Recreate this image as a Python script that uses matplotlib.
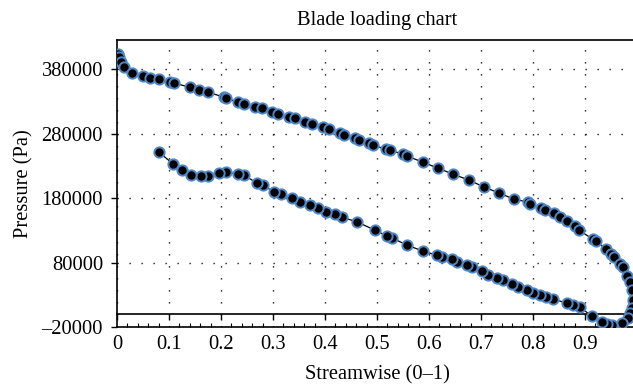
import matplotlib
matplotlib.use("Agg")
import matplotlib.pyplot as plt
from matplotlib.ticker import MultipleLocator

plt.rcParams['font.family'] = ['Liberation Serif', 'DejaVu Serif']
plt.rcParams['lines.scale_dashes'] = False

# Suction side (upper) then trailing edge, then pressure side (lower) back to 0.08
streamwise = [0.002, 0.004, 0.008, 0.013, 0.029, 0.050, 0.063, 0.081, 0.102, 0.110,
              0.140, 0.158, 0.175, 0.206, 0.210, 0.233, 0.244, 0.265, 0.279, 0.298,
              0.310, 0.331, 0.342, 0.362, 0.375, 0.396, 0.408, 0.429, 0.437, 0.458,
              0.465, 0.485, 0.492, 0.517, 0.525, 0.550, 0.558, 0.588, 0.617, 0.646,
              0.677, 0.706, 0.735, 0.763, 0.790, 0.794, 0.815, 0.823, 0.840, 0.852,
              0.865, 0.881, 0.888, 0.915, 0.921, 0.940, 0.950, 0.956, 0.967, 0.973,
              0.981, 0.987, 0.990, 0.992, 0.990, 0.987, 0.983,
              0.971, 0.952, 0.942, 0.933, 0.913, 0.890, 0.877, 0.865, 0.838, 0.825,
              0.813, 0.800, 0.788, 0.771, 0.760, 0.742, 0.731, 0.713, 0.702, 0.683,
              0.673, 0.654, 0.644, 0.625, 0.615, 0.588, 0.558, 0.529, 0.519, 0.496,
              0.462, 0.433, 0.419, 0.402, 0.387, 0.371, 0.352, 0.337, 0.315, 0.302,
              0.281, 0.269, 0.244, 0.233, 0.210, 0.196, 0.175, 0.162, 0.142, 0.125,
              0.108, 0.081]
pressure = [403000, 398600, 390900, 383100, 373800, 369200, 366000, 364500, 359900, 358300,
            352100, 347500, 344300, 336600, 335000, 328800, 325700, 321100, 319500, 313300,
            310200, 305600, 304000, 297800, 294700, 290100, 287000, 280800, 277700, 273000,
            269900, 265300, 262200, 256000, 254400, 248200, 245100, 235800, 226500, 217200,
            207900, 197100, 187800, 178500, 173800, 170700, 164500, 161400, 156800, 150500,
            144300, 136600, 130400, 116400, 113300, 100900, 93200, 88500, 77700, 73000,
            59100, 49800, 37400, 21900, 9500, 1700, -6100,
            -13800, -16900, -15400, -12300, -3000, 11000, 14100, 17200, 23400, 26500,
            29600, 32700, 37400, 42000, 46700, 52900, 56000, 60600, 66800, 73000,
            76100, 80800, 85400, 88500, 91600, 97800, 107100, 118000, 121100, 130400,
            142800, 150500, 155200, 158300, 164500, 169200, 173800, 180000, 186200, 189300,
            200200, 203300, 215700, 217200, 220300, 218800, 214100, 214100, 215700, 223400,
            232700, 251300]

x_ticks = [0, 0.1, 0.2, 0.3, 0.4, 0.5, 0.6, 0.7, 0.8, 0.9]
x_tick_labels = ['0', '0.1', '0.2', '0.3', '0.4', '0.5', '0.6', '0.7', '0.8', '0.9']
y_ticks = [-20000, 80000, 180000, 280000, 380000]
y_tick_labels = ['\u201320000', '80000', '180000', '280000', '380000']

fig = plt.figure(figsize=(6.33, 3.90), dpi=100)
ax = fig.add_axes([0.1848, 0.1615, 0.8215, 0.7355])

ax.plot(streamwise, pressure, color='black', lw=0.9, marker='o', ms=7.4,
        mfc='black', mec='#4f86c6', mew=1.4, zorder=3)

ax.set_xlim(0, 1.0)
ax.set_ylim(-20000, 425000)

ax.set_xticks(x_ticks)
ax.set_xticklabels(x_tick_labels)
ax.set_yticks(y_ticks)
ax.set_yticklabels(y_tick_labels)
ax.xaxis.set_minor_locator(MultipleLocator(0.02))

ax.tick_params(axis='x', which='major', length=0, pad=6, labelsize=14.8)
ax.tick_params(axis='x', which='minor', direction='in', length=3, width=0.8)
ax.tick_params(axis='y', which='major', direction='out', length=4, width=1, pad=6, labelsize=14.8)

for s in ['left', 'bottom', 'top']:
    ax.spines[s].set_linewidth(1.2)
ax.spines['right'].set_visible(False)

ax.grid(True, which='major', color='black', lw=1.0, linestyle=(0, (0.9, 7.74)))
ax.grid(False, which='minor')
ax.set_axisbelow(True)

# zero line with major ticks
zero_pos = (0 - (-20000)) / (425000 + 20000)
sec = ax.secondary_xaxis(zero_pos)
sec.set_xticks(x_ticks)
sec.tick_params(axis='x', which='major', direction='out', length=4.5, width=1, labelbottom=False, labeltop=False)
sec.spines['bottom'].set_linewidth(1.2)

ax.set_title('Blade loading chart', fontsize=14.8, pad=11)
ax.set_xlabel('Streamwise (0\u20131)', fontsize=14.8, labelpad=8)
ax.set_ylabel('Pressure (Pa)', fontsize=14.8, labelpad=6)

fig.savefig('out.png', dpi=100)
